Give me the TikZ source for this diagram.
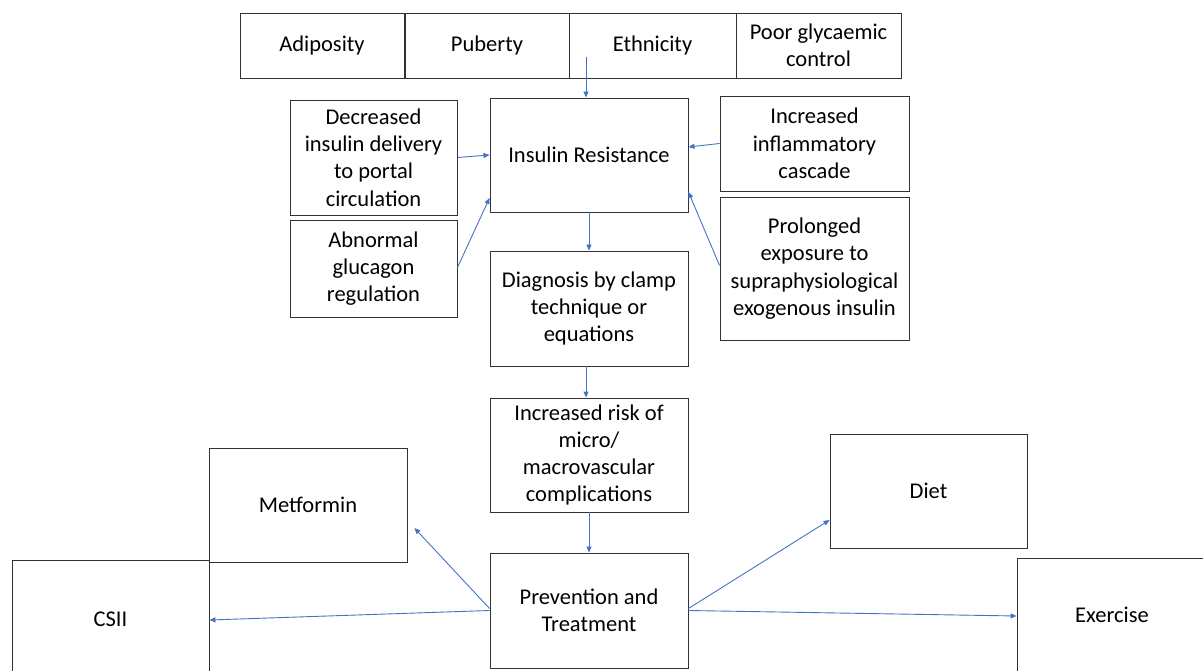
\documentclass[tikz,border=0pt]{standalone}
\usepackage{fontspec}
\setmainfont{Carlito}
\usetikzlibrary{arrows.meta, positioning}
\definecolor{arrowblue}{RGB}{68,114,196}
\definecolor{boxline}{RGB}{50,50,50}
\tikzset{
  >={Triangle[length=6pt,width=5pt]}, % small filled heads
  box/.style={draw=boxline, line width=0.9pt, align=center, inner sep=2pt,
    font=\fontsize{22.5}{27.3}\selectfont}, % every rectangle
  link/.style={->, draw=arrowblue, line width=0.9pt}, % blue connectors
}

\begin{document}
\begin{tikzpicture}[x=1pt, y=-1pt]
  \useasboundingbox (0,0) rectangle (1203,671);

  % risk factors on top
  \node[box, minimum width=164pt, minimum height=65pt] (adiposity) at (322,45.5) {Adiposity};
  \node[box, minimum width=164pt, minimum height=65pt] (puberty) at (487,45.5) {Puberty};
  \node[box, minimum width=167pt, minimum height=65pt] (ethnicity) at (652.5,45.5) {Ethnicity};
  \node[box, minimum width=165pt, minimum height=65pt] (poorcontrol) at (818.5,45.5) {Poor glycaemic\\control};

  % central column
  \node[box, minimum width=198pt, minimum height=114pt] (resistance) at (589,155) {Insulin Resistance};
  \node[box, minimum width=198pt, minimum height=115pt] (diagnosis) at (589,308.5) {Diagnosis by clamp\\technique or\\equations};
  \node[box, minimum width=198pt, minimum height=114pt] (risk) at (589,455) {Increased risk of\\micro/\\macrovascular\\complications};
  \node[box, minimum width=198pt, minimum height=115pt] (prevention) at (589,610.5) {Prevention and\\Treatment};

  % side causes
  \node[box, minimum width=167pt, minimum height=115pt] (delivery) at (373.5,157.5) {Decreased\\insulin delivery\\to portal\\circulation};
  \node[box, minimum width=167pt, minimum height=97pt] (glucagon) at (373.5,268.5) {Abnormal\\glucagon\\regulation};
  \node[box, minimum width=189pt, minimum height=95pt] (inflammation) at (814.5,143.5) {Increased\\inflammatory\\cascade};
  \node[box, minimum width=189pt, minimum height=143pt] (exposure) at (814.5,268.5) {Prolonged\\exposure to\\supraphysiological\\exogenous insulin};

  % treatments
  \node[box, minimum width=198pt, minimum height=114pt] (metformin) at (308,505) {Metformin};
  \node[box, minimum width=197pt, minimum height=118pt] (csii) at (110.5,619) {CSII};
  \node[box, minimum width=197pt, minimum height=114pt] (diet) at (928.5,491) {Diet};
  \node[box, minimum width=190pt, minimum height=114pt] (exercise) at (1112,615) {Exercise};

  \coordinate (ethnicity-out) at (586,57);

  \draw[link] (ethnicity-out) -- (resistance.north -| ethnicity-out);
  \draw[link] (delivery.east) -- (resistance.west);
  \draw[link] ([yshift=1pt]glucagon.east) -- ([yshift=-43pt]resistance.west);
  \draw[link] (inflammation.west) -- ([yshift=8pt]resistance.east);
  \draw[link] ([yshift=3pt]exposure.west) -- ([yshift=-37pt]resistance.east);
  \draw[link] (resistance.south) -- (diagnosis.north);
  \draw[link] ([xshift=-3pt]diagnosis.south) -- ([xshift=-3pt]risk.north);
  \draw[link] (risk.south) -- (prevention.north);

  \draw[link] ([yshift=2pt]prevention.west) -- ([shift={(7pt,-23pt)}]metformin.east);
  \draw[link] (prevention.west) -- ([yshift=-1pt]csii.east);
  \draw[link] ([yshift=2pt]prevention.east) -- ([yshift=-29pt]diet.west);
  \draw[link] (prevention.east) -- ([yshift=-1pt]exercise.west);
\end{tikzpicture}
\end{document}
